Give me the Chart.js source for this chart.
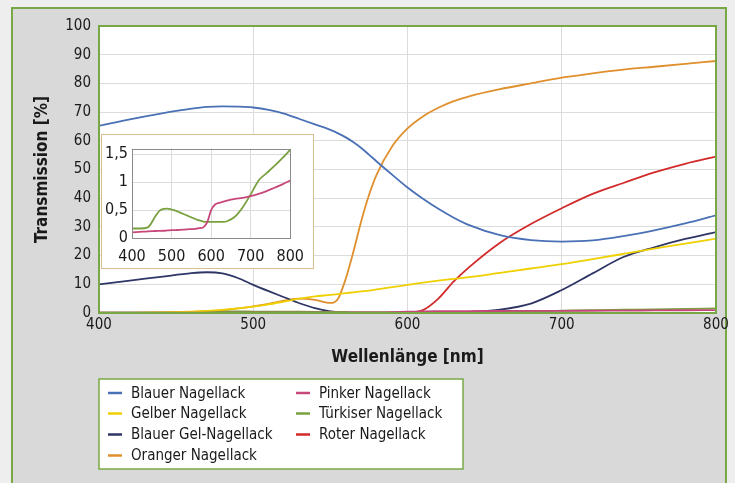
<!DOCTYPE html>
<html>
<head>
<meta charset="utf-8">
<script src="https://cdn.jsdelivr.net/npm/chart.js@4/dist/chart.umd.min.js"></script>
<style>
  html, body { margin: 0; padding: 0; background: #eeeeee; }
  #wrap { position: relative; width: 735px; height: 483px; overflow: hidden; }
  #main { position: absolute; left: 0; top: 0; }
  #insetBox { position: absolute; left: 101px; top: 134px; width: 211px; height: 133px;
              border: 1px solid #d8bd90; background: #ffffff; }
  #inset { position: absolute; left: 0; top: 0; }
</style>
</head>
<body>
<div id="wrap">
  <canvas id="main" width="735" height="483"></canvas>
  <div id="insetBox"><canvas id="inset" width="211" height="133"></canvas></div>
</div>
<script>
// Wavelength grid in nm (denser where the spectra change quickly)
const wavelengths = [400, 420, 440, 460, 470, 480, 490, 500, 510, 520, 530, 540, 550, 555, 560, 565, 570, 575,
                     580, 590, 600, 610, 620, 630, 640, 660, 680, 700, 720, 740, 760, 780, 800];

// Transmission in %
const blauer    = [65.2, 67.5, 69.5, 71.2, 71.8, 72.0, 71.9, 71.6, 70.8, 69.5, 67.6, 65.7, 63.8, 62.6, 61.2, 59.5, 57.5, 55.2,
                   52.8, 48.2, 43.7, 39.8, 36.3, 33.2, 30.6, 27.1, 25.4, 24.9, 25.3, 26.8, 28.8, 31.2, 34.0];
const pinker    = [0.10, 0.11, 0.12, 0.125, 0.128, 0.13, 0.135, 0.14, 0.14, 0.145, 0.15, 0.155, 0.16, 0.16, 0.165, 0.17, 0.175, 0.18,
                   0.19, 0.28, 0.50, 0.60, 0.63, 0.65, 0.67, 0.70, 0.72, 0.75, 0.79, 0.84, 0.90, 0.96, 1.03];
const gelber    = [0.0, 0.05, 0.2, 0.5, 0.75, 1.1, 1.6, 2.2, 3.0, 4.0, 5.0, 5.8, 6.3, 6.6, 6.9, 7.2, 7.5, 7.8,
                   8.2, 9.0, 9.8, 10.6, 11.3, 11.9, 12.5, 14.0, 15.5, 17.0, 18.8, 20.6, 22.4, 24.2, 25.9];
const tuerkiser = [0.17, 0.17, 0.19, 0.40, 0.49, 0.52, 0.525, 0.51, 0.49, 0.46, 0.43, 0.40, 0.37, 0.355, 0.34, 0.325, 0.315, 0.305,
                   0.295, 0.29, 0.29, 0.29, 0.29, 0.29, 0.30, 0.38, 0.55, 0.78, 1.03, 1.16, 1.29, 1.43, 1.58];
const blauerGel = [10.0, 11.3, 12.6, 13.9, 14.2, 13.8, 12.2, 9.8, 7.6, 5.5, 3.4, 1.7, 0.6, 0.3, 0.1, 0.0, 0.0, 0.0,
                   0.0, 0.0, 0.0, 0.0, 0.05, 0.15, 0.4, 1.2, 3.3, 8.0, 13.8, 19.5, 22.9, 25.8, 28.2];
const roter     = [0, 0, 0, 0, 0, 0, 0, 0, 0, 0, 0, 0, 0, 0, 0, 0, 0, 0,
                   0, 0, 0.05, 1.0, 5.0, 11.0, 16.0, 24.5, 31.0, 36.5, 41.5, 45.3, 49.0, 52.0, 54.5];
const oranger   = [0.0, 0.0, 0.1, 0.4, 0.65, 1.0, 1.6, 2.3, 3.2, 4.3, 5.0, 4.6, 3.5, 5.0, 12.0, 21.5, 32.0, 41.0,
                   48.2, 58.0, 64.3, 68.5, 71.5, 73.8, 75.5, 78.0, 80.0, 82.0, 83.5, 84.8, 85.8, 86.8, 87.8];

const xTicks = [400, 500, 600, 700, 800];

const FONT = "'DejaVu Sans Condensed', 'DejaVu Sans', sans-serif";
const GREEN = '#78a846';
const TEXT = '#1a1a1a';

const series = [
  { label: 'Blauer Nagellack',     values: blauer,    color: '#4a70b5' },
  { label: 'Pinker Nagellack',     values: pinker,    color: '#c8477b' },
  { label: 'Gelber Nagellack',     values: gelber,    color: '#efd000' },
  { label: 'Türkiser Nagellack',   values: tuerkiser, color: '#79a13f' },
  { label: 'Blauer Gel-Nagellack', values: blauerGel, color: '#2f3565' },
  { label: 'Roter Nagellack',      values: roter,     color: '#d22a2a' },
  { label: 'Oranger Nagellack',    values: oranger,   color: '#df8f2c' }
];

const toPoints = vals => wavelengths.map((x, i) => ({ x: x, y: vals[i] }));

function makeDataset(s) {
  return {
    label: s.label,
    data: toPoints(s.values),
    borderColor: s.color,
    backgroundColor: s.color,
    borderWidth: 1.8,
    pointRadius: 0,
    cubicInterpolationMode: 'monotone',
    fill: false
  };
}

// Frame, plot background and border
const framePlugin = {
  id: 'frame',
  beforeDraw(chart) {
    const ctx = chart.ctx, a = chart.chartArea;
    ctx.save();
    ctx.fillStyle = '#eeeeee';
    ctx.fillRect(0, 0, chart.width, chart.height);
    ctx.fillStyle = '#d9d9d9';
    ctx.fillRect(11, 7, 716, 490);
    ctx.strokeStyle = GREEN;
    ctx.lineWidth = 2;
    ctx.strokeRect(12, 8, 714, 490);
    ctx.fillStyle = '#ffffff';
    ctx.fillRect(a.left, a.top, a.right - a.left, a.bottom - a.top);
    ctx.restore();
  },
  afterDraw(chart) {
    const ctx = chart.ctx, a = chart.chartArea;
    ctx.save();
    ctx.strokeStyle = GREEN;
    ctx.lineWidth = 2;
    ctx.strokeRect(a.left, a.top, a.right - a.left, a.bottom - a.top);
    ctx.restore();
  }
};

// Two-column legend in a boxed panel below the plot
const boxLegend = {
  id: 'boxLegend',
  afterDraw(chart) {
    const ctx = chart.ctx;
    const box = { x: 99, y: 379, w: 364, h: 90 };
    ctx.save();
    ctx.fillStyle = '#ffffff';
    ctx.fillRect(box.x, box.y, box.w, box.h);
    ctx.strokeStyle = GREEN;
    ctx.lineWidth = 1.5;
    ctx.strokeRect(box.x, box.y, box.w, box.h);
    ctx.font = '15px ' + FONT;
    ctx.textBaseline = 'middle';
    ctx.textAlign = 'left';
    const colX = [108, 296];
    const rowY = [393, 413.5, 434.5, 455.5];
    chart.data.datasets.forEach((ds, i) => {
      const cx = colX[i % 2], cy = rowY[Math.floor(i / 2)];
      ctx.strokeStyle = ds.borderColor;
      ctx.lineWidth = 2.5;
      ctx.beginPath();
      ctx.moveTo(cx, cy);
      ctx.lineTo(cx + 14, cy);
      ctx.stroke();
      ctx.fillStyle = TEXT;
      ctx.fillText(ds.label, cx + 23, cy + 1);
    });
    ctx.restore();
  }
};

new Chart(document.getElementById('main'), {
  type: 'line',
  data: { datasets: series.map(makeDataset) },
  options: {
    responsive: false,
    animation: false,
    devicePixelRatio: 1,
    layout: { padding: { left: 26, top: 26, right: 19, bottom: 114 } },
    plugins: { legend: { display: false }, tooltip: { enabled: false } },
    scales: {
      x: {
        type: 'linear', min: 400, max: 800,
        afterBuildTicks: s => { s.ticks = xTicks.map(v => ({ value: v })); },
        ticks: { color: TEXT, padding: 3, font: { family: FONT, size: 15 } },
        grid: { color: '#dcdcdc', drawTicks: false },
        border: { display: false },
        title: { display: true, text: 'Wellenlänge [nm]', color: TEXT,
                 font: { family: FONT, size: 17, weight: 'bold' }, padding: { top: 0, bottom: 1 } },
        afterFit: s => { s.height = 56; }
      },
      y: {
        min: 0, max: 100,
        ticks: { stepSize: 10, color: TEXT, padding: 8, font: { family: FONT, size: 15 } },
        grid: { color: '#dcdcdc', drawTicks: false },
        border: { display: false },
        title: { display: true, text: 'Transmission [%]', color: TEXT,
                 font: { family: FONT, size: 17, weight: 'bold' }, padding: { top: 6, bottom: 0 } },
        afterFit: s => { s.width = 73; }
      }
    }
  },
  plugins: [framePlugin, boxLegend]
});

// Inset: zoom on the two nearly opaque lacquers
const insetBorder = {
  id: 'insetBorder',
  afterDraw(chart) {
    const ctx = chart.ctx, a = chart.chartArea;
    ctx.save();
    ctx.strokeStyle = '#8a8a8a';
    ctx.lineWidth = 1;
    ctx.strokeRect(Math.round(a.left) + 0.5, Math.round(a.top) + 0.5,
                   Math.round(a.right - a.left), Math.round(a.bottom - a.top));
    ctx.restore();
  }
};

new Chart(document.getElementById('inset'), {
  type: 'line',
  data: { datasets: [series[1], series[3]].map(makeDataset) },
  options: {
    responsive: false,
    animation: false,
    devicePixelRatio: 1,
    layout: { padding: { left: 0, top: 13, right: 19, bottom: 0 } },
    plugins: { legend: { display: false }, tooltip: { enabled: false } },
    scales: {
      x: {
        type: 'linear', min: 400, max: 800,
        afterBuildTicks: s => { s.ticks = xTicks.map(v => ({ value: v })); },
        ticks: { color: TEXT, padding: 9, font: { family: FONT, size: 16 } },
        grid: { color: '#dcdcdc', drawTicks: false },
        border: { display: false },
        afterFit: s => { s.height = 30; }
      },
      y: {
        min: 0, max: 1.6,
        ticks: { stepSize: 0.5, includeBounds: false, color: TEXT, padding: 4,
                 font: { family: FONT, size: 16 },
                 callback: v => String(v).replace('.', ',') },
        grid: { color: '#dcdcdc', drawTicks: false },
        border: { display: false },
        afterFit: s => { s.width = 30; }
      }
    }
  },
  plugins: [insetBorder]
});
</script>
</body>
</html>
